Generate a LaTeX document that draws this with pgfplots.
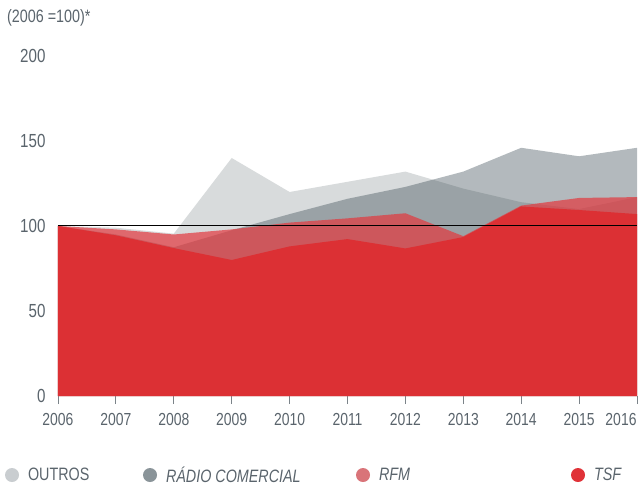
\documentclass[border=0pt]{standalone}
\usepackage{fontspec}
\setmainfont{Liberation Sans}[FakeStretch=0.8]
\usepackage{pgfplots}
\pgfplotsset{compat=1.18}
\definecolor{txt}{RGB}{90,100,108}
\definecolor{outros}{RGB}{216,219,220}
\definecolor{radio}{RGB}{49,66,75}
\definecolor{rfm}{RGB}{227,56,62}
\definecolor{tsf}{RGB}{220,48,52}
\definecolor{legOut}{RGB}{201,205,208}
\definecolor{legRad}{RGB}{138,148,153}
\definecolor{legRfm}{RGB}{217,116,121}
\definecolor{legTsf}{RGB}{224,50,56}
\begin{document}
\begin{tikzpicture}
\path[use as bounding box] (-58bp,-91bp) rectangle (580bp,396bp);
\begin{axis}[
  at={(0,0)}, anchor=south west,
  width=579bp, height=340bp, scale only axis,
  xmin=2006, xmax=2016, ymin=0, ymax=200,
  axis line style={draw=none},
  xtick={2006,2007,2008,2009,2010,2011,2012,2013,2014,2015,2016},
  xticklabels={2006,2007,2008,2009,2010,2011,2012,2013,2014,2015,\makebox[0pt]{\hspace*{-32bp}2016}},
  ytick={0,50,100,150,200},
  xtick pos=bottom, ytick pos=left,
  tick align=outside,
  major tick length=8bp,
  xtick style={draw=txt!80, line width=0.9bp},
  ytick style={draw=none},
  xticklabel style={font=\fontsize{17.5}{17.5}\selectfont, text=txt, yshift=-6bp},
  yticklabel style={font=\fontsize{19}{19}\selectfont, text=txt, xshift=-1bp},
  /pgf/number format/assume math mode=true,
  clip=false,
  legend columns=4,
  legend style={draw=none, fill=none, at={(-0.0915,-0.2324)}, anchor=west,
    inner sep=0pt, outer sep=0pt, /tikz/column sep=9bp,
    nodes={inner sep=0pt, text=txt, font=\fontsize{18}{18}\selectfont}},
]
\addplot[draw=none, fill=outros,
  legend image code/.code={\fill[legOut, fill opacity=1] (0bp,0bp) circle (7bp);}]
  coordinates {(2006,100)(2007,99)(2008,95.5)(2009,140)(2010,120)(2011,126)(2012,132)(2013,122)(2014,114)(2015,110)(2016,117)} \closedcycle;
\addlegendentry{\makebox[106bp][l]{OUTROS}}
\addplot[draw=none, fill=radio, fill opacity=0.37,
  legend image code/.code={\fill[legRad, fill opacity=1] (0bp,0bp) circle (7bp);}]
  coordinates {(2006,100)(2007,95)(2008,87.5)(2009,97.5)(2010,107)(2011,116)(2012,123)(2013,132)(2014,146)(2015,141)(2016,146)} \closedcycle;
\addlegendentry{\makebox[181bp][l]{\itshape RÁDIO COMERCIAL}}
\addplot[draw=none, fill=rfm, fill opacity=0.7,
  legend image code/.code={\fill[legRfm, fill opacity=1] (0bp,0bp) circle (7bp);}]
  coordinates {(2006,100)(2007,98)(2008,95)(2009,98)(2010,102)(2011,104.5)(2012,107.5)(2013,94)(2014,112)(2015,116.5)(2016,117)} \closedcycle;
\addlegendentry{\makebox[183bp][l]{\itshape RFM}}
\addplot[draw=none, fill=tsf,
  legend image code/.code={\fill[legTsf, fill opacity=1] (0bp,0bp) circle (7bp);}]
  coordinates {(2006,100)(2007,94.5)(2008,87)(2009,80)(2010,88)(2011,92.3)(2012,86.8)(2013,93.5)(2014,111.5)(2015,109.4)(2016,107)} \closedcycle;
\addlegendentry{\itshape TSF}
\addplot[black, line width=1bp, forget plot] coordinates {(2006,100)(2016,100)};
\end{axis}
\node[anchor=west, inner sep=0pt, text=txt, font=\fontsize{18}{18}\selectfont] at (-51bp,378bp) {(2006 =100)*};
\end{tikzpicture}
\end{document}
